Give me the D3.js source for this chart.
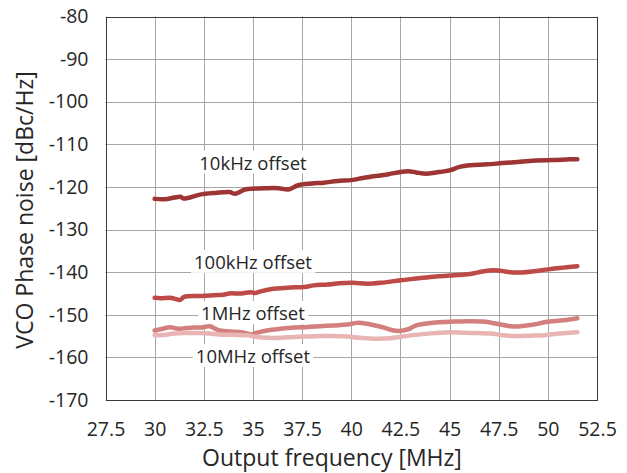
<!DOCTYPE html>
<html>
<head>
<meta charset="utf-8">
<script src="https://cdn.jsdelivr.net/npm/d3@7"></script>
<style>
	body { margin: 0; background: #fff; }
	svg text { font-family: "Open Sans", "Liberation Sans", sans-serif; fill: #262626; }
	.grid line { stroke: #a6a6a6; stroke-width: 1; }
	.series { fill: none; stroke-width: 4.5; stroke-linecap: round; stroke-linejoin: round; }
</style>
</head>
<body>
<svg id="chart" width="627" height="473"></svg>
<script>
// values
var xTicks = [27.5, 30, 32.5, 35, 37.5, 40, 42.5, 45, 47.5, 50, 52.5];
var yTicks = [-170, -160, -150, -140, -130, -120, -110, -100, -90, -80];

var seriesNames = ["10kHz offset", "100kHz offset", "1MHz offset", "10MHz offset"];
var seriesColors = ["#9c3533", "#bd4a47", "#d27f7d", "#e8b5b4"];

var freq10k = [30, 30.5, 31, 31.3, 31.5, 32.3, 33.1, 33.8, 34.1, 34.6, 35, 35.6, 36.3, 36.8, 37.3, 38, 38.6, 39.3, 40, 40.6, 41.3, 41.9, 42.5, 42.9, 43.3, 43.8, 44.3, 45, 45.5, 46, 46.9, 47.7, 48.6, 49.4, 50.3, 51.1, 51.5];
var pn10k = [-122.8, -122.9, -122.5, -122.3, -122.7, -121.8, -121.4, -121.2, -121.6, -120.6, -120.4, -120.3, -120.3, -120.6, -119.6, -119.2, -119.0, -118.6, -118.4, -117.9, -117.4, -117.0, -116.5, -116.3, -116.6, -116.9, -116.6, -116.1, -115.3, -114.9, -114.7, -114.4, -114.1, -113.8, -113.7, -113.5, -113.5];

var freq100k = [30, 30.3, 30.8, 31, 31.3, 31.5, 32.3, 33, 33.5, 33.8, 34.4, 34.9, 35.1, 35.4, 35.9, 36.4, 36.9, 37.6, 38.1, 38.8, 39.4, 40.1, 40.8, 41.5, 42.5, 43.3, 44.3, 45, 45.9, 46.4, 47, 47.5, 47.9, 48.4, 49.1, 49.9, 50.6, 51.5];
var pn100k = [-146.0, -146.1, -146.0, -146.2, -146.5, -145.8, -145.6, -145.4, -145.3, -145.0, -145.0, -144.7, -144.9, -144.5, -144.0, -143.8, -143.6, -143.5, -143.1, -142.9, -142.6, -142.5, -142.7, -142.5, -141.9, -141.5, -141.0, -140.8, -140.5, -140.1, -139.6, -139.6, -139.9, -140.1, -139.9, -139.4, -139.0, -138.6];

var freq1M = [30, 30.3, 30.8, 31, 31.3, 31.6, 32, 32.5, 32.8, 33.1, 33.3, 33.8, 34.4, 34.7, 34.9, 35.2, 35.7, 36.4, 37.1, 37.7, 38.4, 39.1, 39.8, 40.3, 40.8, 41.5, 42, 42.4, 42.9, 43.3, 44.3, 45.2, 46, 46.7, 47.4, 48.1, 48.6, 49.3, 49.9, 50.8, 51.5];
var pn1M = [-153.7, -153.4, -152.9, -153.1, -153.3, -153.1, -153.0, -152.9, -152.7, -153.3, -153.7, -153.9, -154.1, -154.4, -154.6, -154.2, -153.7, -153.3, -153.0, -152.9, -152.7, -152.5, -152.3, -151.9, -152.1, -152.8, -153.5, -153.8, -153.4, -152.5, -151.8, -151.6, -151.5, -151.6, -152.1, -152.7, -152.7, -152.3, -151.7, -151.3, -150.8];

var freq10M = [30, 30.3, 31, 31.6, 32.3, 32.8, 33.3, 34, 34.7, 35.2, 35.7, 36.4, 37.1, 37.7, 38.4, 39.1, 39.8, 40.4, 41.1, 42, 42.6, 43.5, 44.3, 45, 45.7, 46.4, 47.1, 47.7, 48.4, 49.1, 49.8, 50.6, 51.5];
var pn10M = [-154.8, -154.8, -154.4, -154.3, -154.3, -154.4, -154.6, -154.7, -154.8, -155.2, -155.4, -155.4, -155.2, -155.1, -155.0, -155.0, -155.1, -155.4, -155.6, -155.5, -155.1, -154.6, -154.3, -154.1, -154.2, -154.3, -154.4, -154.8, -155.0, -154.9, -154.8, -154.4, -154.1];

// where the series labels sit, in data units
var labelFreq = [35, 35, 35, 35];
var labelLevel = [-114.4, -137.7, -149.7, -159.8];

var freqs = [freq10k, freq100k, freq1M, freq10M];
var levels = [pn10k, pn100k, pn1M, pn10M];

var svg = d3.select("#chart");

var x = d3.scaleLinear()
	.domain([27.5, 52.5])
	.range([105.5, 597]);

var y = d3.scaleLinear()
	.domain([-170, -80])
	.range([400, 16.5]);

// gridlines
var grid = svg.append("g").attr("class", "grid");

grid.selectAll(".vx")
	.data(xTicks)
	.enter()
	.append("line")
	.attr("x1", function(d){ return Math.round(x(d)) + 0.5; })
	.attr("x2", function(d){ return Math.round(x(d)) + 0.5; })
	.attr("y1", y(-80))
	.attr("y2", y(-170));

grid.selectAll(".hy")
	.data(yTicks)
	.enter()
	.append("line")
	.attr("y1", function(d){ return Math.round(y(d)) + 0.5; })
	.attr("y2", function(d){ return Math.round(y(d)) + 0.5; })
	.attr("x1", x(27.5))
	.attr("x2", x(52.5));

// plot area frame
svg.append("rect")
	.attr("x", Math.round(x(27.5)) + 0.5)
	.attr("y", Math.round(y(-80)) + 0.5)
	.attr("width", Math.round(x(52.5)) - Math.round(x(27.5)))
	.attr("height", Math.round(y(-170)) - Math.round(y(-80)))
	.attr("fill", "none")
	.attr("stroke", "#3a3a3a")
	.attr("stroke-width", 1);

// axes (labels only, no tick marks)
var xAxis = d3.axisBottom(x)
	.tickValues(xTicks)
	.tickSize(0)
	.tickPadding(22)
	.tickFormat(function(d){ return d; });

var yAxis = d3.axisLeft(y)
	.tickValues(yTicks)
	.tickSize(0)
	.tickPadding(17)
	.tickFormat(function(d){ return d; });

var gx = svg.append("g")
	.attr("transform", "translate(0," + y(-170) + ")")
	.call(xAxis);

var gy = svg.append("g")
	.attr("transform", "translate(" + x(27.5) + ",0)")
	.call(yAxis);

[gx, gy].forEach(function(g){
	g.select(".domain").remove();
	g.selectAll("text")
		.attr("font-size", 19.5)
		.style("font-family", "'Open Sans', sans-serif")
		.attr("fill", "#262626");
});

// series lines
var line = d3.line()
	.x(function(d){ return x(d[0]); })
	.y(function(d){ return y(d[1]); })
	.curve(d3.curveCatmullRom.alpha(0.5));

svg.selectAll(".series")
	.data(seriesNames)
	.enter()
	.append("path")
	.attr("class", "series")
	.attr("stroke", function(d, i){ return seriesColors[i]; })
	.attr("d", function(d, i){
		return line(d3.zip(freqs[i], levels[i]));
	});

// series labels with white boxes
var labels = svg.selectAll(".lbl")
	.data(seriesNames)
	.enter()
	.append("g")
	.attr("class", "lbl")
	.attr("transform", function(d, i){ return "translate(" + x(labelFreq[i]) + "," + y(labelLevel[i]) + ")"; });

labels.append("rect")
	.attr("fill", "#fff");

labels.append("text")
	.text(function(d){ return d; })
	.attr("text-anchor", "middle")
	.attr("dy", "0.35em")
	.attr("font-size", 18.5);

labels.each(function(){
	var g = d3.select(this);
	var bb = g.select("text").node().getBBox();
	g.select("rect")
		.attr("x", bb.x - 3)
		.attr("y", bb.y + 1)
		.attr("width", bb.width + 6)
		.attr("height", bb.height - 2);
});

// axis titles
svg.append("text")
	.attr("x", 332)
	.attr("y", 458)
	.attr("dy", "0.35em")
	.attr("text-anchor", "middle")
	.attr("font-size", 23)
	.text("Output frequency [MHz]");

svg.append("text")
	.attr("transform", "translate(25,210) rotate(-90)")
	.attr("dy", "0.35em")
	.attr("text-anchor", "middle")
	.attr("font-size", 23)
	.text("VCO Phase noise [dBc/Hz]");
</script>
</body>
</html>
